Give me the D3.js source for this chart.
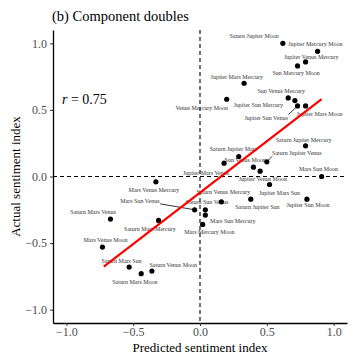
<!DOCTYPE html>
<html>
<head>
<meta charset="utf-8">
<script src="https://cdn.jsdelivr.net/npm/d3@7"></script>
<style>
  body { margin: 0; background: #fff; }
  svg { display: block; font-family: "Liberation Serif", "Times New Roman", serif; }
</style>
</head>
<body>
<div id="chart"></div>
<script>
// triplet names, predicted (x) and actual (y) sentiment index
const names = [
  "Saturn Jupiter Moon", "Jupiter Mercury Moon", "Jupiter Venus Mercury", "Sun Mercury Moon",
  "Jupiter Mars Mercury", "Venus Mercury Moon", "Sun Venus Mercury", "Jupiter Sun Mercury",
  "Jupiter Sun Venus", "Jupiter Mars Moon", "Saturn Jupiter Mercury", "Saturn Jupiter Venus",
  "Saturn Jupiter Mars", "Jupiter Mars Venus", "Sun Venus Moon", "Jupiter Venus Moon",
  "Mars Sun Moon", "Jupiter Mars Sun", "Mars Venus Mercury", "Saturn Jupiter Sun",
  "Jupiter Sun Moon", "Saturn Venus Mercury", "Saturn Sun Venus", "Mars Sun Venus",
  "Mars Sun Mercury", "Mars Mercury Moon", "Saturn Mars Mercury", "Saturn Mars Venus",
  "Mars Venus Moon", "Saturn Mars Sun", "Saturn Mars Moon", "Saturn Venus Moon"
];
const predicted = [
  0.62, 0.88, 0.79, 0.73, 0.33, 0.20, 0.66, 0.71,
  0.73, 0.79, 0.79, 0.50, 0.29, 0.18, 0.40, 0.45,
  0.91, 0.52, -0.33, 0.38, 0.80, 0.16, 0.04, -0.04,
  0.04, 0.02, -0.31, -0.67, -0.73, -0.53, -0.44, -0.36
];
const actual = [
  1.00, 0.94, 0.86, 0.83, 0.70, 0.58, 0.59, 0.57,
  0.53, 0.53, 0.23, 0.11, 0.15, 0.10, 0.07, 0.04,
  0.00, -0.06, -0.04, -0.17, -0.17, -0.19, -0.25, -0.25,
  -0.29, -0.36, -0.33, -0.32, -0.53, -0.68, -0.73, -0.71
];
// repelled label anchors, in data units
const labelX = [
  0.405, 0.863, 0.833, 0.72, 0.275, 0.013, 0.608, 0.437,
  0.495, 0.895, 0.775, 0.725, 0.25, 0.045, 0.338, 0.47,
  0.887, 0.595, -0.345, 0.43, 0.808, 0.175, 0.053, -0.45,
  0.245, 0.07, -0.375, -0.8, -0.707, -0.587, -0.487, -0.2
];
const labelY = [
  1.058, 0.995, 0.898, 0.776, 0.75, 0.518, 0.643, 0.538,
  0.443, 0.473, 0.275, 0.175, 0.205, 0.03, 0.123, -0.015,
  0.055, -0.12, -0.1, -0.23, -0.215, -0.113, -0.19, -0.182,
  -0.33, -0.413, -0.39, -0.265, -0.477, -0.632, -0.788, -0.662
];
const leaders = ["Jupiter Sun Venus", "Saturn Jupiter Venus", "Mars Sun Venus"];

// linear fit
const fitSlope = 0.771;
const fitIntercept = -0.121;
const fitRange = [-0.72, 0.91];
const corr = 0.75;

const xTicks = [-1.0, -0.5, 0.0, 0.5, 1.0];
const yTicks = [-1.0, -0.5, 0.0, 0.5, 1.0];

const width = 360, height = 360;
const margin = { top: 30, right: 13, bottom: 37, left: 53 };

const svg = d3.select('#chart').append('svg')
  .attr('width', width)
  .attr('height', height);

const x = d3.scaleLinear().domain([-1.1, 1.1]).range([margin.left, width - margin.right]);
const y = d3.scaleLinear().domain([-1.1, 1.1]).range([height - margin.bottom, margin.top]);

// title
svg.append('text')
  .attr('x', 52)
  .attr('y', 21)
  .attr('font-size', 14.5)
  .attr('fill', '#000')
  .text('(b) Component doubles');

// zero reference lines
svg.append('line')
  .attr('x1', x(0)).attr('x2', x(0))
  .attr('y1', y.range()[1]).attr('y2', y.range()[0])
  .attr('stroke', '#000').attr('stroke-width', 1.1)
  .attr('stroke-dasharray', '4,3');
svg.append('line')
  .attr('x1', x.range()[0]).attr('x2', x.range()[1])
  .attr('y1', y(0)).attr('y2', y(0))
  .attr('stroke', '#000').attr('stroke-width', 1.1)
  .attr('stroke-dasharray', '4,3');

// axes
const xAxis = svg.append('g')
  .attr('transform', `translate(0,${y.range()[0]})`)
  .call(d3.axisBottom(x).tickValues(xTicks).tickFormat(d3.format('.1f')).tickSize(3).tickSizeOuter(0));
const yAxis = svg.append('g')
  .attr('transform', `translate(${x.range()[0]},0)`)
  .call(d3.axisLeft(y).tickValues(yTicks).tickFormat(d3.format('.1f')).tickSize(3).tickSizeOuter(0));

[xAxis, yAxis].forEach(g => {
  g.select('.domain').attr('stroke', '#000').attr('stroke-width', 1.3);
  g.selectAll('.tick line').attr('stroke', '#333').attr('stroke-width', 1);
  g.selectAll('.tick text')
    .attr('font-family', '"Liberation Serif", serif')
    .attr('font-size', 12)
    .attr('fill', '#4d4d4d');
});
xAxis.selectAll('.tick text').attr('y', 4).attr('dy', '0.71em');

svg.append('text')
  .attr('x', (x.range()[0] + x.range()[1]) / 2)
  .attr('y', 352)
  .attr('text-anchor', 'middle')
  .attr('font-size', 13)
  .text('Predicted sentiment index');

svg.append('text')
  .attr('transform', `translate(20,${(y.range()[0] + y.range()[1]) / 2}) rotate(-90)`)
  .attr('text-anchor', 'middle')
  .attr('font-size', 13)
  .text('Actual sentiment index');

// correlation
const rText = svg.append('text')
  .attr('x', 62)
  .attr('y', 104)
  .attr('font-size', 14);
rText.append('tspan').attr('font-style', 'italic').text('r');
rText.append('tspan').text(` = ${corr.toFixed(2)}`);

// points
const data = names.map((n, i) => ({
  name: n, px: predicted[i], py: actual[i], lx: labelX[i], ly: labelY[i]
}));

// labels
const labels = svg.append('g').selectAll('text')
  .data(data)
  .enter()
  .append('text')
  .attr('x', d => x(d.lx))
  .attr('y', d => y(d.ly))
  .attr('dy', '0.35em')
  .attr('text-anchor', 'middle')
  .attr('font-size', 6)
  .attr('fill', '#333')
  .text(d => d.name);

// leader segments for the labels pushed far from their point
labels.each(function(d) {
  if (leaders.indexOf(d.name) < 0) return;
  const b = this.getBBox();
  const px = x(d.px), py = y(d.py);
  const cx = Math.max(b.x, Math.min(px, b.x + b.width));
  const cy = Math.max(b.y, Math.min(py, b.y + b.height));
  svg.append('line')
    .attr('x1', px).attr('y1', py)
    .attr('x2', cx).attr('y2', cy)
    .attr('stroke', '#000').attr('stroke-width', 0.8);
});

svg.append('g').selectAll('circle')
  .data(data)
  .enter()
  .append('circle')
  .attr('cx', d => x(d.px))
  .attr('cy', d => y(d.py))
  .attr('r', 2.6)
  .attr('fill', '#000');

// fit line
const fit = fitRange.map(v => [v, fitIntercept + fitSlope * v]);
svg.append('path')
  .datum(fit)
  .attr('d', d3.line().x(d => x(d[0])).y(d => y(d[1])))
  .attr('stroke', '#ff0000')
  .attr('stroke-width', 2.2)
  .attr('fill', 'none');
</script>
</body>
</html>
